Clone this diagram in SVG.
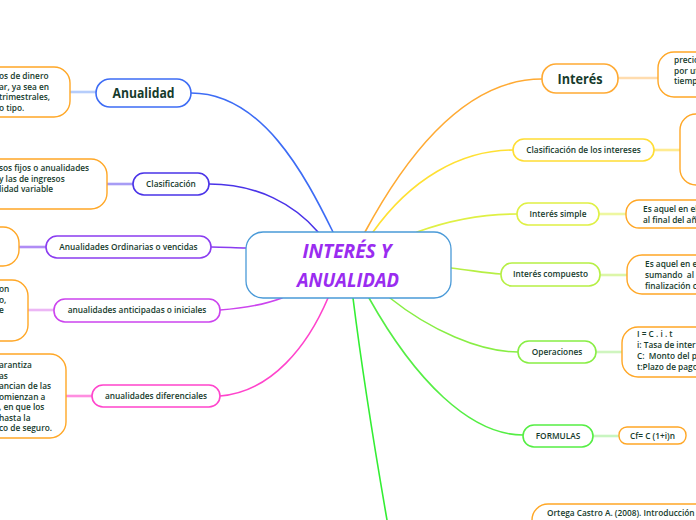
<svg xmlns="http://www.w3.org/2000/svg" width="696" height="520" viewBox="0 0 696 520">
<style>
.n{fill:#fff;stroke-width:1.6}
.b{fill:#fff;stroke:#ffa726;stroke-width:1.4}
.t{font-family:"Open Sans","Noto Sans","DejaVu Sans",sans-serif;font-weight:600;font-size:8.3px;fill:#163b2c;white-space:pre}
.tc{text-anchor:middle}
.big{font-family:"Open Sans","Noto Sans","DejaVu Sans",sans-serif;font-weight:700;font-size:13.5px;fill:#163b2c;text-anchor:middle}
.ct{font-family:"Open Sans","DejaVu Sans",sans-serif;font-weight:700;font-style:italic;font-size:20px;fill:#9a2cf0;text-anchor:middle}
.c{fill:none;stroke-width:1.6;stroke-linecap:round}
.s{fill:none;stroke-width:2.6}
</style>
<rect width="696" height="520" fill="#fff"/>
<g id="connectors">
<path class="c" stroke="#3d6cf5" d="M191,93 C262,93 305,175 333,232"/>
<path class="c" stroke="#4a33e8" d="M209,184 C258,184 295,205 318,232"/>
<path class="c" stroke="#8a3cf0" d="M211,247 C225,247 235,248 246,248"/>
<path class="c" stroke="#cc44ee" d="M220,310 C248,308 266,304 282,298"/>
<path class="c" stroke="#ff44cc" d="M220,396 C272,392 308,345 328,298"/>
<path class="c" stroke="#33ee33" d="M353,298 C362,370 374,445 387,520"/>
<path class="c" stroke="#55ee44" d="M369,298 C415,380 470,435 523,435"/>
<path class="c" stroke="#88ee44" d="M390,298 C430,330 480,352 518,352"/>
<path class="c" stroke="#b6ef44" d="M451,268 C470,270 485,273 501,274"/>
<path class="c" stroke="#dff044" d="M417,232 C450,220 480,214 517,214"/>
<path class="c" stroke="#ffe033" d="M373,232 C410,180 460,150 513,150"/>
<path class="c" stroke="#ffaa33" d="M365,232 C420,130 480,79 542,79"/>
<path class="s" stroke="#b6cdfb" d="M70,92 L96,92"/>
<path class="s" stroke="#a79cf5" stroke-width="1.4" d="M107,184 L133,184"/>
<path class="s" stroke="#b08cf5" stroke-width="1.4" d="M19,247 L46,247"/>
<path class="s" stroke="#ecb6f5" d="M28,310 L54,310"/>
<path class="s" stroke="#ff8ee0" stroke-width="1.4" d="M66,396 L92,396"/>
<path class="s" stroke="#ffdcae" d="M618,78 L658,78"/>
<path class="s" stroke="#ffeb90" d="M654,150 L680,150"/>
<path class="s" stroke="#eef7a0" d="M599,214 L626,214"/>
<path class="s" stroke="#dcf6a8" d="M600,275 L627,275"/>
<path class="s" stroke="#cff5bf" d="M596,352 L622,352"/>
<path class="s" stroke="#c8f5c0" d="M593,436 L619,436"/>
</g>
<g id="center">
<rect x="246" y="232" width="205" height="66" rx="17" fill="#fff" stroke="#4a9ad8" stroke-width="1.3"/>
<text class="ct" x="347" y="258" textLength="89" lengthAdjust="spacingAndGlyphs">INTERÉS Y</text>
<text class="ct" x="348" y="287" textLength="102" lengthAdjust="spacingAndGlyphs">ANUALIDAD</text>
</g>
<g id="anualidad">
<rect class="n" x="96" y="79" width="95" height="28" rx="14" stroke="#3d6cf5"/>
<text class="big" x="143.5" y="98" textLength="62" lengthAdjust="spacingAndGlyphs">Anualidad</text>
</g>
<g id="anualidad-def">
<rect class="b" x="-30" y="67" width="100" height="50" rx="16"/>
<text class="t" x="-1" y="79">os de dinero</text>
<text class="t" x="-1" y="89.5">ar, ya sea en</text>
<text class="t" x="-1" y="100">trimestrales,</text>
<text class="t" x="-1" y="110.5">o tipo.</text>
</g>
<g id="clasificacion">
<rect class="n" x="133" y="173" width="76" height="22" rx="11" stroke="#4a33e8"/>
<text class="t tc" x="171" y="187">Clasificación</text>
</g>
<g id="clasificacion-def">
<rect class="b" x="-30" y="159" width="137" height="50" rx="16"/>
<text class="t" x="-1" y="171">sos fijos o anualidades</text>
<text class="t" x="-1" y="181.5">y las de ingresos</text>
<text class="t" x="-1" y="192">lidad variable</text>
</g>
<g id="ordinarias">
<rect class="n" x="46" y="236" width="165" height="22" rx="11" stroke="#8a3cf0"/>
<text class="t tc" x="128.5" y="250">Anualidades Ordinarias o vencidas</text>
</g>
<g id="ordinarias-def">
<rect class="b" x="-30" y="227" width="49" height="39" rx="16"/>
</g>
<g id="anticipadas">
<rect class="n" x="54" y="299" width="166" height="23" rx="11" stroke="#cc44ee"/>
<text class="t tc" x="137" y="313">anualidades anticipadas o iniciales</text>
</g>
<g id="anticipadas-def">
<rect class="b" x="-30" y="280" width="58" height="61" rx="16"/>
<text class="t" x="-1" y="292">on</text>
<text class="t" x="-1" y="302.5">o,</text>
<text class="t" x="-1" y="313">e</text>
</g>
<g id="diferenciales">
<rect class="n" x="92" y="385" width="128" height="22" rx="11" stroke="#ff44cc"/>
<text class="t tc" x="156" y="399">anualidades diferenciales</text>
</g>
<g id="diferenciales-def">
<rect class="b" x="-30" y="354" width="96" height="84" rx="16"/>
<text class="t" x="-1" y="368">arantiza</text>
<text class="t" x="-1" y="378.5">as</text>
<text class="t" x="-1" y="389">ancian de las</text>
<text class="t" x="-1" y="399.5">omienzan a</text>
<text class="t" x="-1" y="410">, en que los</text>
<text class="t" x="-1" y="420.5">hasta la</text>
<text class="t" x="-1" y="431">co de seguro.</text>
</g>
<g id="interes">
<rect class="n" x="542" y="64" width="76" height="29" rx="14" stroke="#ffaa33"/>
<text class="big" x="580" y="83.5" textLength="45" lengthAdjust="spacingAndGlyphs">Interés</text>
</g>
<g id="interes-def">
<rect class="b" x="658" y="52" width="80" height="45" rx="16"/>
<text class="t" x="674" y="63">precio</text>
<text class="t" x="674" y="73.5">por ut</text>
<text class="t" x="674" y="84">tiemp</text>
</g>
<g id="clasif-intereses">
<rect class="n" x="513" y="139" width="141" height="22" rx="11" stroke="#ffdd33"/>
<text class="t tc" x="583.5" y="153">Clasificación de los intereses</text>
</g>
<g id="clasif-intereses-def">
<rect class="b" x="680" y="114" width="60" height="71" rx="16"/>
</g>
<g id="simple">
<rect class="n" x="517" y="203" width="82" height="22" rx="11" stroke="#dff044"/>
<text class="t tc" x="558" y="217">Interés simple</text>
</g>
<g id="simple-def">
<rect class="b" x="626" y="200" width="100" height="28" rx="13"/>
<text class="t" x="643" y="212">Es aquel en el</text>
<text class="t" x="643" y="223">al final del añ</text>
</g>
<g id="compuesto">
<rect class="n" x="501" y="263" width="99" height="23" rx="11" stroke="#b6ef44"/>
<text class="t tc" x="550.5" y="277">Interés compuesto</text>
</g>
<g id="compuesto-def">
<rect class="b" x="627" y="255" width="100" height="39" rx="15"/>
<text class="t" x="645" y="267">Es aquel en e</text>
<text class="t" x="645" y="278" xml:space="preserve">sumando  al</text>
<text class="t" x="645" y="289">finalización c</text>
</g>
<g id="operaciones">
<rect class="n" x="518" y="341" width="78" height="22" rx="11" stroke="#88ee44"/>
<text class="t tc" x="557" y="355">Operaciones</text>
</g>
<g id="operaciones-def">
<rect class="b" x="622" y="327" width="100" height="50" rx="16"/>
<text class="t" x="637" y="337">I = C . i . t</text>
<text class="t" x="637" y="348">i: Tasa de inter</text>
<text class="t" x="637" y="359" xml:space="preserve">C:  Monto del pr</text>
<text class="t" x="637" y="370">t:Plazo de pago</text>
</g>
<g id="formulas">
<rect class="n" x="523" y="425" width="70" height="22" rx="11" stroke="#55ee44"/>
<text class="t tc" x="558" y="439">FORMULAS</text>
</g>
<g id="formulas-def">
<rect class="b" x="619" y="427" width="67" height="17" rx="8"/>
<text class="t tc" x="652.5" y="439">Cf= C (1+i)n</text>
</g>
<g id="referencia">
<rect class="b" x="532" y="504" width="200" height="40" rx="16"/>
<text class="t" x="547" y="516">Ortega Castro A. (2008). Introducción</text>
</g>
</svg>
